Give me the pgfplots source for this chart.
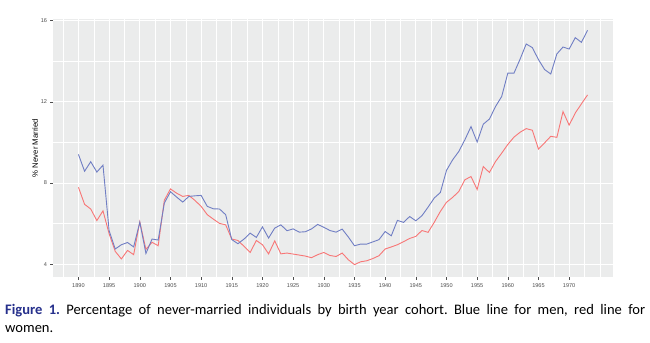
\documentclass[border=0pt]{standalone}
\usepackage{fontspec}
\usepackage{pgfplots}
\pgfplotsset{compat=1.18}
\newfontfamily\arial{Liberation Sans}
\newfontfamily\capfont{Carlito}
\definecolor{panelbg}{RGB}{235,236,236}
\definecolor{menblue}{RGB}{112,126,196}
\definecolor{womenred}{RGB}{248,118,118}
\definecolor{figblue}{RGB}{38,48,140}
\definecolor{ticktext}{RGB}{77,77,77}
\frenchspacing
\begin{document}
\begin{tikzpicture}
\path[use as bounding box] (-53bp,-66bp) rectangle (597bp,277bp);
\begin{axis}[
  at={(0,0)}, anchor=south west,
  scale only axis, width=560bp, height=258bp,
  xmin=1885.85, xmax=1977.15, ymin=3.37, ymax=16.08,
  axis background/.style={fill=panelbg},
  axis line style={draw=none},
  xtick={1890,1895,...,1970},
  minor xtick={1887.5,1892.5,...,1972.5,1975},
  ytick={4,8,12,16},
  minor ytick={6,10,14},
  grid=both,
  major grid style={white, line width=0.9bp},
  minor grid style={white, line width=0.45bp},
  xtick pos=lower, ytick pos=left,
  tick align=outside,
  major tick length=2.5bp, minor tick length=0pt,
  tick style={ticktext, line width=0.5bp},
  /pgf/number format/1000 sep={},
  /pgf/number format/assume math mode=true,
  tick label style={font=\arial\fontsize{5.6}{6.5}\selectfont, text=ticktext},
  xticklabel style={yshift=-1bp},
  ylabel={\% Never Married},
  every axis y label/.style={at={(axis description cs:-0.0321,0.5)}, rotate=90, anchor=center, font=\arial\fontsize{7.8}{9}\selectfont},
  clip=false,
]
\addplot[womenred, line width=0.9bp] coordinates {
(1890,7.79)(1891,6.95)(1892,6.72)(1893,6.15)(1894,6.63)(1895,5.50)(1896,4.63)(1897,4.26)(1898,4.68)(1899,4.47)
(1900,6.09)(1901,4.73)(1902,5.08)(1903,4.91)(1904,7.15)(1905,7.71)(1906,7.50)(1907,7.34)(1908,7.39)(1909,7.14)
(1910,6.85)(1911,6.44)(1912,6.22)(1913,6.01)(1914,5.94)(1915,5.24)(1916,5.17)(1917,4.88)(1918,4.58)(1919,5.17)
(1920,4.96)(1921,4.51)(1922,5.15)(1923,4.51)(1924,4.55)(1925,4.50)(1926,4.45)(1927,4.40)(1928,4.32)(1929,4.47)
(1930,4.58)(1931,4.43)(1932,4.38)(1933,4.55)(1934,4.22)(1935,3.98)(1936,4.12)(1937,4.17)(1938,4.28)(1939,4.42)
(1940,4.75)(1941,4.85)(1942,4.96)(1943,5.11)(1944,5.27)(1945,5.37)(1946,5.66)(1947,5.57)(1948,6.06)(1949,6.60)
(1950,7.05)(1951,7.29)(1952,7.58)(1953,8.16)(1954,8.32)(1955,7.68)(1956,8.81)(1957,8.52)(1958,9.06)(1959,9.47)
(1960,9.90)(1961,10.26)(1962,10.50)(1963,10.68)(1964,10.60)(1965,9.67)(1966,9.98)(1967,10.30)(1968,10.25)(1969,11.52)
(1970,10.85)(1971,11.45)(1972,11.90)(1973,12.34)
};
\addplot[menblue, line width=0.9bp] coordinates {
(1890,9.41)(1891,8.58)(1892,9.05)(1893,8.54)(1894,8.88)(1895,5.65)(1896,4.75)(1897,4.96)(1898,5.07)(1899,4.85)
(1900,6.07)(1901,4.53)(1902,5.24)(1903,5.19)(1904,7.01)(1905,7.57)(1906,7.31)(1907,7.06)(1908,7.34)(1909,7.37)
(1910,7.39)(1911,6.85)(1912,6.73)(1913,6.72)(1914,6.44)(1915,5.21)(1916,5.01)(1917,5.24)(1918,5.53)(1919,5.32)
(1920,5.84)(1921,5.29)(1922,5.78)(1923,5.94)(1924,5.65)(1925,5.74)(1926,5.58)(1927,5.60)(1928,5.74)(1929,5.96)
(1930,5.82)(1931,5.66)(1932,5.58)(1933,5.73)(1934,5.34)(1935,4.91)(1936,4.99)(1937,4.99)(1938,5.10)(1939,5.21)
(1940,5.61)(1941,5.40)(1942,6.16)(1943,6.06)(1944,6.35)(1945,6.14)(1946,6.39)(1947,6.81)(1948,7.26)(1949,7.53)
(1950,8.62)(1951,9.14)(1952,9.55)(1953,10.13)(1954,10.78)(1955,10.02)(1956,10.90)(1957,11.15)(1958,11.77)(1959,12.26)
(1960,13.41)(1961,13.41)(1962,14.10)(1963,14.85)(1964,14.67)(1965,14.08)(1966,13.59)(1967,13.37)(1968,14.36)(1969,14.70)
(1970,14.60)(1971,15.16)(1972,14.93)(1973,15.52)
};
\end{axis}
\node[anchor=base west, inner sep=0pt, font=\capfont\fontsize{14.6}{17}\selectfont] at (-48bp,-37bp)
  {\makebox[640bp][s]{{\bfseries\color{figblue}Figure 1.} Percentage of never-married individuals by birth year cohort. Blue line for men, red line for}};
\node[anchor=base west, inner sep=0pt, font=\capfont\fontsize{14.6}{17}\selectfont] at (-48bp,-55bp) {women.};
\end{tikzpicture}
\end{document}
